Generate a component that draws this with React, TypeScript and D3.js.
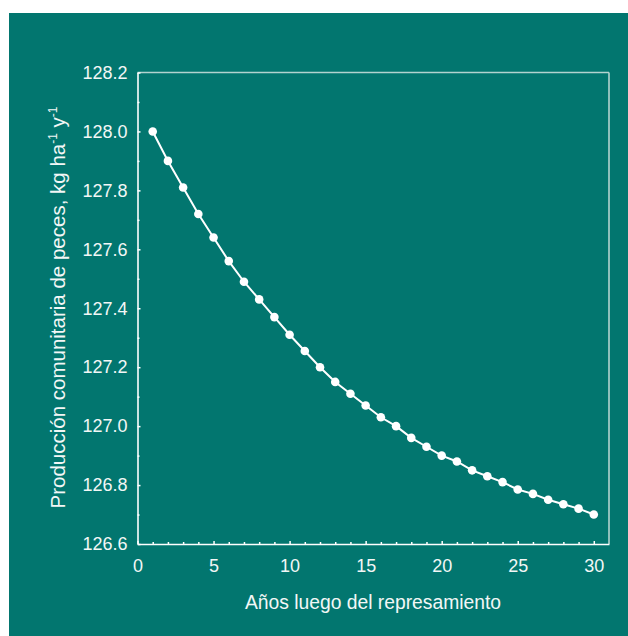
import React, { useEffect, useRef } from 'react';
import * as d3 from 'd3';

// years after damming and community fish production (kg/ha/y)
const years = [1, 2, 3, 4, 5, 6, 7, 8, 9, 10, 11, 12, 13, 14, 15, 16, 17, 18, 19, 20, 21, 22, 23, 24, 25, 26, 27, 28, 29, 30];
const production = [
  128.0, 127.9, 127.81, 127.72, 127.64, 127.56, 127.49, 127.43, 127.37, 127.31,
  127.255, 127.2, 127.15, 127.11, 127.07, 127.03, 127.0, 126.96, 126.93, 126.9,
  126.88, 126.85, 126.83, 126.81, 126.785, 126.77, 126.75, 126.735, 126.72, 126.7,
];
const xTicks = [0, 5, 10, 15, 20, 25, 30];
const yTicks = [126.6, 126.8, 127.0, 127.2, 127.4, 127.6, 127.8, 128.0, 128.2];

const App = () => {
  const svgRef = useRef<SVGSVGElement>(null);

  useEffect(() => {
    const svg = d3.select(svgRef.current);
    const width = 628;
    const height = 636;
    const margin = { top: 72.5, right: 19, bottom: 92, left: 137.5 };
    const innerWidth = width - margin.left - margin.right;
    const innerHeight = height - margin.top - margin.bottom;
    const font = '"Liberation Sans", Arial, sans-serif';
    const textColor = '#f2f7f6';

    // teal panel
    svg
      .append('rect')
      .attr('x', 9)
      .attr('y', 13)
      .attr('width', width - 9)
      .attr('height', height - 13)
      .attr('fill', '#02766f');

    const g = svg.append('g').attr('transform', `translate(${margin.left},${margin.top})`);

    const x = d3.scaleLinear().domain([0, 31]).range([0, innerWidth]);
    const y = d3.scaleLinear().domain([126.6, 128.2]).range([innerHeight, 0]);

    // top and right frame
    g.append('line')
      .attr('x1', 0)
      .attr('x2', innerWidth)
      .attr('y1', 0)
      .attr('y2', 0)
      .attr('stroke', '#b3d3cf')
      .attr('stroke-width', 1.6);
    g.append('line')
      .attr('x1', innerWidth)
      .attr('x2', innerWidth)
      .attr('y1', 0)
      .attr('y2', innerHeight)
      .attr('stroke', '#b3d3cf')
      .attr('stroke-width', 1.6);

    // minor ticks
    const xMinor = d3.range(1, 31).filter((d) => d % 5 !== 0);
    const yMinor = d3.range(126.7, 128.2, 0.2);
    g.append('g')
      .attr('transform', `translate(0,${innerHeight})`)
      .call(d3.axisBottom(x).tickValues(xMinor).tickSize(-2).tickFormat(() => ''))
      .call((a) => a.select('.domain').remove());
    g.append('g')
      .call(d3.axisLeft(y).tickValues(yMinor).tickSize(-2).tickFormat(() => ''))
      .call((a) => a.select('.domain').remove());

    // major axes
    const xAxis = g
      .append('g')
      .attr('transform', `translate(0,${innerHeight})`)
      .call(d3.axisBottom(x).tickValues(xTicks).tickSize(-3).tickSizeOuter(0).tickPadding(15));
    const yAxis = g
      .append('g')
      .call(d3.axisLeft(y).tickValues(yTicks).tickSize(-3).tickSizeOuter(0).tickPadding(10).tickFormat(d3.format('.1f')));

    [xAxis, yAxis].forEach((a) => {
      a.select('.domain').attr('stroke', '#ffffff').attr('stroke-width', 1.6);
      a.selectAll('text').attr('fill', textColor).attr('font-family', font).attr('font-size', 18);
    });
    g.selectAll('.tick line').attr('stroke', '#ffffff').attr('stroke-width', 1.5);

    // line and points
    const line = d3
      .line<number>()
      .x((d, i) => x(years[i]))
      .y((d) => y(d));
    g.append('path')
      .datum(production)
      .attr('d', line)
      .attr('fill', 'none')
      .attr('stroke', '#ffffff')
      .attr('stroke-width', 2);
    g.selectAll('circle')
      .data(production)
      .enter()
      .append('circle')
      .attr('cx', (d, i) => x(years[i]))
      .attr('cy', (d) => y(d))
      .attr('r', 4.3)
      .attr('fill', '#ffffff');

    // x label
    svg
      .append('text')
      .attr('x', 373)
      .attr('y', 609)
      .attr('text-anchor', 'middle')
      .attr('fill', textColor)
      .attr('font-family', font)
      .attr('font-size', 19.3)
      .text('Años luego del represamiento');

    // y label
    const yLabel = svg
      .append('text')
      .attr('transform', `translate(65,307.5) rotate(-90)`)
      .attr('text-anchor', 'middle')
      .attr('fill', textColor)
      .attr('font-family', font)
      .attr('font-size', 20.5);
    yLabel.append('tspan').text('Producción comunitaria de peces, kg ha');
    yLabel.append('tspan').attr('font-size', 12).attr('dy', -8).text('-1');
    yLabel.append('tspan').attr('dy', 8).text(' y');
    yLabel.append('tspan').attr('font-size', 12).attr('dy', -8).text('-1');

    return () => {
      svg.selectAll('*').remove();
    };
  }, []);

  return (
    <svg
      ref={svgRef}
      width={628}
      height={636}
      style={{ position: 'absolute', left: 0, top: 0, display: 'block' }}
    ></svg>
  );
};

export default App;
